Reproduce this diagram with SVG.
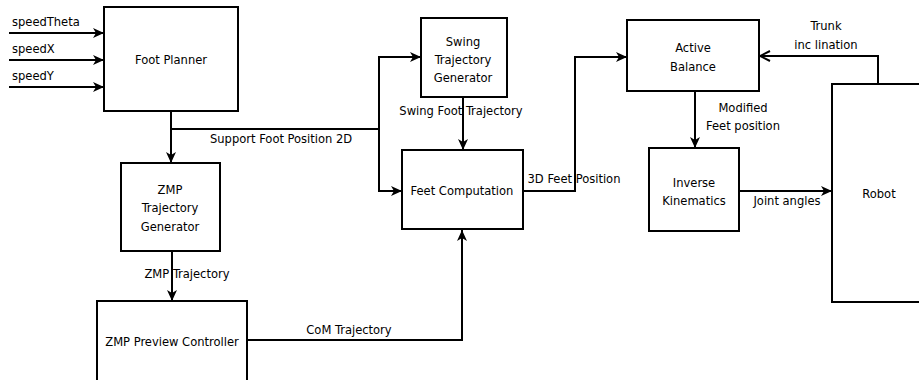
<svg xmlns="http://www.w3.org/2000/svg" width="919" height="380" viewBox="0 0 919 380">
  <style>
    .box { fill: #ffffff; stroke: #000000; stroke-width: 2; }
    .wire { fill: none; stroke: #000000; stroke-width: 2; }
    .arr { marker-end: url(#head); }
    .open { marker-end: url(#openHead); }
    text { font-family: "DejaVu Sans Condensed", "DejaVu Sans", sans-serif; font-size: 12.8px; fill: #000000; }
    .c { text-anchor: middle; }
  </style>
  <defs>
    <marker id="head" markerUnits="userSpaceOnUse" markerWidth="12" markerHeight="12" viewBox="0 0 12 12" refX="11" refY="6" orient="auto">
      <path d="M0,1 L11,6 L0,11 L3,6 z" fill="#000000"/>
    </marker>
    <marker id="openHead" markerUnits="userSpaceOnUse" markerWidth="12" markerHeight="12" viewBox="0 0 12 12" refX="11" refY="6" orient="auto">
      <path d="M1,1 L11,6 L1,11" fill="none" stroke="#000000" stroke-width="2"/>
    </marker>
  </defs>

  <!-- connectors -->
  <g id="connectors">
    <path class="wire arr" d="M9,33 H104"/>
    <path class="wire arr" d="M9,60 H104"/>
    <path class="wire arr" d="M9,87 H104"/>
    <path class="wire" d="M171,111 V129 H379"/>
    <path class="wire arr" d="M171,129 V163"/>
    <path class="wire arr" d="M379,129 V57 H421"/>
    <path class="wire arr" d="M379,129 V191 H402"/>
    <path class="wire arr" d="M463,97 V150"/>
    <path class="wire arr" d="M172,251 V301"/>
    <path class="wire arr" d="M247,340 H462 V230"/>
    <path class="wire arr" d="M523,191 H575 V57 H627"/>
    <path class="wire arr" d="M695,91 V148"/>
    <path class="wire arr" d="M739,191 H832"/>
    <path class="wire open" d="M878,84 V56 H760"/>

    <text x="12" y="26">speedTheta</text>
    <text x="12" y="53">speedX</text>
    <text x="12" y="80">speedY</text>
    <text x="210" y="143">Support Foot Position 2D</text>
    <text class="c" x="461" y="115">Swing Foot Trajectory</text>
    <text class="c" x="187" y="278">ZMP Trajectory</text>
    <text class="c" x="349" y="334">CoM Trajectory</text>
    <text class="c" x="574" y="183">3D Feet Position</text>
    <text class="c" x="826" y="30">Trunk</text>
    <text class="c" x="826" y="49">inc lination</text>
    <text class="c" x="743" y="112">Modified</text>
    <text class="c" x="743" y="130">Feet position</text>
    <text class="c" x="787" y="205">Joint angles</text>
  </g>

  <g id="foot-planner">
    <rect class="box" x="104" y="7" width="134" height="104"/>
    <text class="c" x="171" y="64">Foot Planner</text>
  </g>

  <g id="zmp-trajectory-generator">
    <rect class="box" x="121" y="163" width="99" height="88"/>
    <text class="c" x="170" y="194">ZMP</text>
    <text class="c" x="170" y="212">Trajectory</text>
    <text class="c" x="170" y="231">Generator</text>
  </g>

  <g id="zmp-preview-controller">
    <rect class="box" x="97" y="301" width="150" height="84"/>
    <text class="c" x="172" y="346">ZMP Preview Controller</text>
  </g>

  <g id="swing-trajectory-generator">
    <rect class="box" x="421" y="18" width="86" height="79"/>
    <text class="c" x="463" y="46">Swing</text>
    <text class="c" x="463" y="64">Trajectory</text>
    <text class="c" x="463" y="82">Generator</text>
  </g>

  <g id="feet-computation">
    <rect class="box" x="402" y="150" width="121" height="79"/>
    <text class="c" x="462" y="195">Feet Computation</text>
  </g>

  <g id="active-balance">
    <rect class="box" x="627" y="20" width="132" height="71"/>
    <text class="c" x="693" y="52">Active</text>
    <text class="c" x="693" y="71">Balance</text>
  </g>

  <g id="inverse-kinematics">
    <rect class="box" x="649" y="148" width="90" height="83"/>
    <text class="c" x="694" y="187">Inverse</text>
    <text class="c" x="694" y="205">Kinematics</text>
  </g>

  <g id="robot">
    <rect class="box" x="832" y="84" width="95" height="218"/>
    <text class="c" x="879" y="198">Robot</text>
  </g>
</svg>
